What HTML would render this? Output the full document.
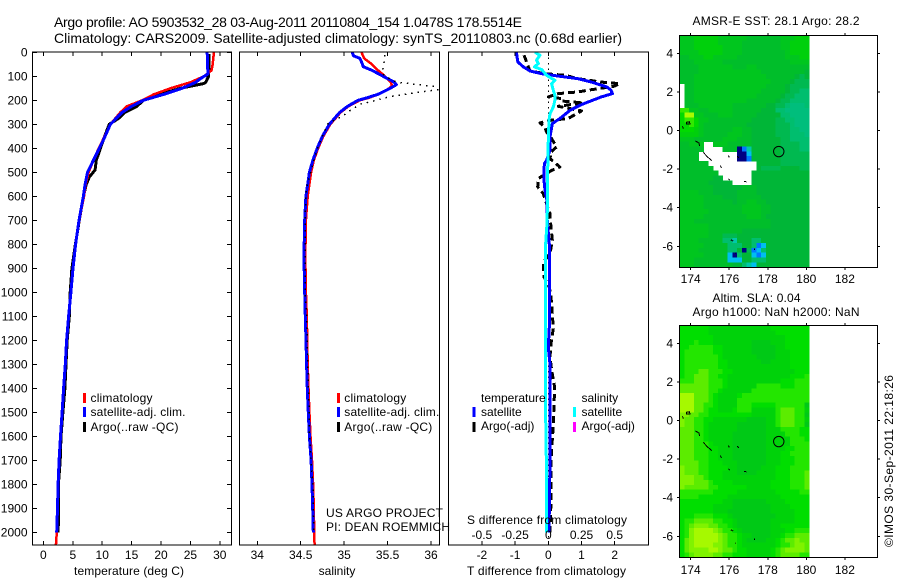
<!DOCTYPE html>
<html lang="en">
<head>
<meta charset="utf-8">
<title>Argo profile comparison</title>
<style>
html,body{margin:0;padding:0;background:#fff;width:900px;height:580px;overflow:hidden}
svg{display:block}
text{font-family:"Liberation Sans",sans-serif;font-size:12px;fill:#000}
.title{font-size:14px}
.mid{text-anchor:middle}
.end{text-anchor:end}
</style>
</head>
<body>
<svg id="chart" xmlns="http://www.w3.org/2000/svg" width="900" height="580" viewBox="0 0 900 580">
  <defs>
    <clipPath id="clip-temp"><rect x="32" y="52" width="200" height="493"/></clipPath>
    <clipPath id="clip-sal"><rect x="239" y="52" width="200" height="493"/></clipPath>
    <clipPath id="clip-diff"><rect x="448" y="52" width="200" height="493"/></clipPath>
  </defs>
  <rect x="0" y="0" width="900" height="580" fill="#fff"/>

  <text class="title" x="54" y="27" textLength="468">Argo profile: AO 5903532_28 03-Aug-2011 20110804_154 1.0478S 178.5514E</text>
  <text class="title" x="54" y="43" textLength="568">Climatology: CARS2009. Satellite-adjusted climatology: synTS_20110803.nc (0.68d earlier)</text>

  <g id="temp-panel"></g>
  <g id="sal-panel"></g>
  <g id="diff-panel"></g>
  <g id="sst-map"></g>
  <g id="sla-map"></g>

  <text x="74" y="575" textLength="110">temperature (deg C)</text>
  <text class="mid" x="337" y="575">salinity</text>
  <text x="467" y="575" textLength="159">T difference from climatology</text>
  <text x="467" y="524" textLength="160">S difference from climatology</text>

  <g>
    <rect x="83" y="393" width="3" height="10" fill="#f00"/>
    <rect x="83" y="407" width="3" height="10" fill="#00f"/>
    <rect x="83" y="422" width="3" height="10" fill="#000"/>
    <text x="90.5" y="402" textLength="62">climatology</text>
    <text x="90.5" y="416" textLength="95">satellite-adj. clim.</text>
    <text x="90.5" y="431" textLength="88">Argo(..raw -QC)</text>
  </g>
  <g>
    <rect x="337" y="393" width="3" height="10" fill="#f00"/>
    <rect x="337" y="407" width="3" height="10" fill="#00f"/>
    <rect x="337" y="422" width="3" height="10" fill="#000"/>
    <text x="344.3" y="402" textLength="62">climatology</text>
    <text x="344.3" y="416" textLength="95">satellite-adj. clim.</text>
    <text x="344.3" y="431" textLength="88">Argo(..raw -QC)</text>
  </g>
  <text x="326" y="517" textLength="117">US ARGO PROJECT</text>
  <text x="326" y="531" textLength="124">PI: DEAN ROEMMICH</text>

  <g>
    <text x="481" y="402">temperature</text>
    <rect x="472.5" y="407" width="3" height="10" fill="#00f"/>
    <rect x="472.5" y="422" width="3" height="10" fill="#000"/>
    <text x="481" y="416">satellite</text>
    <text x="481" y="430">Argo(-adj)</text>
    <text x="581.5" y="402">salinity</text>
    <rect x="573" y="407" width="3" height="10" fill="#0ff"/>
    <rect x="573" y="422" width="3" height="10" fill="#f0f"/>
    <text x="581.5" y="416">satellite</text>
    <text x="581.5" y="430">Argo(-adj)</text>
  </g>

  <text x="692.5" y="25" textLength="167">AMSR-E SST: 28.1  Argo: 28.2</text>
  <text x="712.5" y="302" textLength="88">Altim. SLA: 0.04</text>
  <text x="692.5" y="316" textLength="167">Argo h1000: NaN h2000: NaN</text>
  <text transform="translate(893,547) rotate(-90)" textLength="172">©IMOS 30-Sep-2011 22:18:26</text>
</svg>
<script>
/* ---------- profile data ---------- */
const depthTicks = [0,100,200,300,400,500,600,700,800,900,1000,1100,1200,1300,1400,1500,1600,1700,1800,1900,2000];
const tempTicks = [0,5,10,15,20,25,30];
const salTicks = [34,34.5,35,35.5,36];
const tDiffTicks = [-2,-1,0,1,2];
const sDiffTicks = [-0.5,-0.25,0,0.25,0.5];
const sDiffTickLabels = ['-0.5','-0.25','0','0.25','0.5'];
const lonTicks = [174,176,178,180,182];
const latTicks = [4,2,0,-2,-4,-6];

const climTempDepth = [0,50,75,100,125,150,175,200,225,250,300,350,400,450,500,550,600,700,800,900,1000,1100,1200,1300,1400,1500,1600,1700,1800,1900,2000,2054];
const climTemp = [29.0,28.8,28.6,27.3,25,21.6,18.8,16.8,14.2,13.1,11.4,10.4,9.4,8.5,7.7,7.2,6.9,6.1,5.5,5.05,4.7,4.3,3.97,3.73,3.45,3.2,2.92,2.68,2.51,2.4,2.28,2.12];
const satTempDepth = [0,50,90,110,125,150,175,200,225,250,300,350,400,450,500,550,600,700,800,900,1000,1100,1200,1300,1400,1500,1600,1700,1800,1900,2000];
const satTemp = [27.85,27.9,28,26.7,25.9,23.6,20.5,17,15,13.4,11.4,10.5,9.5,8.5,7.5,7.1,6.8,6.05,5.48,5.03,4.68,4.29,3.95,3.72,3.44,3.18,2.9,2.67,2.5,2.39,2.27];
const argoTempDepth = [8,100,125,130,150,175,200,225,250,275,300,350,400,450,490,520,550,600,700,800,900,1000,1100,1200,1300,1400,1500,1600,1700,1800,1900,2000];
const argoTemp = [28.2,28.1,27.6,27.3,23.3,19.9,17,15.9,13.9,12.8,11.2,10.4,9.7,9,8.8,7.8,7.3,6.8,6.1,5.45,4.85,4.55,4.4,4.05,3.85,3.65,3.32,3,2.85,2.55,2.6,2.5];

const climSalDepth = [0,25,50,75,100,125,140,150,175,190,200,225,250,300,350,400,450,500,550,600,700,800,900,1000,1100,1200,1300,1400,1500,1600,1700,1800,1900,2000,2054];
const climSal = [35.2,35.23,35.32,35.39,35.47,35.54,35.55,35.52,35.4,35.28,35.18,35.05,34.96,34.84,34.76,34.7,34.65,34.62,34.6,34.58,34.56,34.555,34.555,34.56,34.57,34.575,34.58,34.59,34.6,34.612,34.63,34.642,34.65,34.655,34.66];
const satSalDepth = [0,15,25,40,60,75,100,125,135,150,175,190,200,225,250,300,350,400,450,500,550,600,700,800,900,1000,1100,1200,1300,1400,1500,1600,1700,1800,1900,2000];
const satSal = [35.09,35.11,35.18,35.2,35.22,35.32,35.45,35.58,35.6,35.53,35.39,35.26,35.16,35.04,34.95,34.83,34.75,34.69,34.64,34.6,34.58,34.56,34.546,34.54,34.54,34.546,34.553,34.561,34.568,34.576,34.587,34.6,34.62,34.63,34.638,34.645];
const argoSalDepth = [12,40,61,89,103,124,149,183,197,207,214,242,262,283,294,339,394,464,561,600,700,1000,1100,1200,1400,1500,1600,1800,2000];
const argoSal = [35.47,35.46,35.45,35.44,35.49,35.6,36.2,35.55,35.39,35.3,35.2,35.07,35,34.89,34.82,34.76,34.7,34.64,34.57,34.56,34.55,34.55,34.57,34.575,34.59,34.6,34.6,34.64,34.65];

const satTDiffDepth = [0,40,61,78,89,100,110,124,144,158,172,186,207,221,242,276,297,353,408,450,464,533,575,617,686,800,1145,1230,1300,1436,1700,2000];
const satTDiff = [-0.96,-0.92,-0.75,-0.55,-0.2,0.35,0.9,1.3,1.76,1.89,1.93,1.6,1.2,0.95,0.65,0.35,0.12,0.05,0.05,-0.05,-0.12,-0.13,-0.1,-0.04,-0.04,0.03,0.03,0,0.05,0.05,0.05,0.02];
const argoTDiffDepth = [12,54,78,89,96,110,124,131,142,158,165,172,186,193,203,211,225,244,276,283,294,314,332,360,394,415,443,478,492,526,561,589,631,672,686,783,839,874,936,978,1019,1088,1151,1213,1269,1324,1387,1436,1550,1700,1870,2000];
const argoTDiff = [-0.73,-0.62,-0.55,-0.1,0.5,0.9,1.6,2.16,1.96,1.2,0.9,0.3,0,0.4,0.4,1.05,0.3,1,0.6,0.1,-0.25,-0.1,-0.05,0.1,0.25,0.08,0.05,0.35,0.1,-0.3,-0.32,-0.15,-0.05,0.05,0.05,0.12,0.05,-0.15,-0.13,0.03,0.08,0.12,0.15,0.08,0.05,0.1,0.18,0.18,0.15,0.08,0.08,0.05];
const satSDiffDepth = [0,12,33,47,61,72,96,117,131,158,179,200,228,256,283,367,506,700,800,1400,1500,1800,2000];
const satSDiff = [-0.1,-0.063,-0.088,-0.075,-0.105,-0.05,-0.013,0.05,0.025,0.038,0.05,0.05,0.038,0.013,0.005,0,-0.005,-0.008,-0.02,-0.022,-0.02,-0.012,-0.015];

/* ---------- map data ---------- */
const sstColors = {g:'#00b637',h:'#00be2a',i:'#00c61e',j:'#00d00c',k:'#00da00',l:'#32e800',y:'#aafa00',t:'#00b950',u:'#00be6e',v:'#00be7c',n:'#000082',b:'#0078ff',c:'#00beF0',d:'#00c8aa'};
const slaColors = {a:'#00c916',b:'#00d20a',c:'#00de00',d:'#23e600',e:'#5cec00',f:'#80f300',y:'#a6f900'};
const sstRows = [
'iiijjjjjiiiiiihhhhhhhiiijjj','iiijjjjjiiiiihhhhhhhhiijjjj','iiijjjjjjiiiihhhhhhhhiijjjj','iiiijjjjjiiiihhhhhhhhhijjjj',
'hhiiijjiiiiihhhhhhhhhhiiijj','hhhiiiiiihhhhhhhhhhhhhhiiii','hhhhiiiiiiihhhiihhhhhhhhhhh','hhhhiiiiiiiiiiiiihhhhhhhhhg',
'hhhiiiiiiiiiiiiiiihhhhhhgtg','hhhiiiiiiiiiiiiiiiihhhhgttt','.hhiiiiiiiiiiiiiiihhhhgtttt','.hhiiiiiiiiiiiiiihhhhhgttuu',
'.hhiiiiiiiiiiiiihhhhhgttuuu','.hhiiiiiiiiiiihhhhhhgttuuuu','.hhhiiiiiiihhhhhhhggttuvvvu','lliihhiiiiihhhhhhggguuvvvvv',
'kyyiihhhiiihhhhhggggguuvvvv','kllkiihhhhhhhhhgggggttuuvvv','kklkihhhhhhhhhggggggtttuvvv','kkkjihhhhhhiihhgggggtttuuvv',
'jjjjihhhhhiiihhgggggtttuuuv','iiihhhhhhiiihhhggggggttuuuu','hhiii..iiihhhhhggggggttttuu','hhhhh....hhhnbdggggggttttuu',
'hhhh........nncggggggtttttt','hhhh........nnbggggggtttttt','hhhhhh..........gggggtttttt','hhhhhhh.........gttttggggtt',
'hhhhhhhh.......gggggggggggg','hhhhhhhgg......gggggggggggg','hhhhhhggggg....gggggggggggg','hhhhhhhgggggghhhggggggggggg',
'iiiihhhggggghhhhggggggggggg','iiiiihhhhggghhhhhgggggggggg','iiiiihhhhhhghhiihhggggggggg','iiiiihhhhhhhhiiiihhgggggggg',
'iiiiiihhhhhhhiiiihhgggggggg','iiiiihhhhhhhhhiiihggggggggg','iiihhhhhhhhhhhhhhhhgggggggg','iiiiiihhhhhhhhhhhhhgggggggg',
'iiiiiihhhhhhhgggggggggggggg','iiiiiihhhtttggggggggggggggg','iiiihhhhhuudggguuggggggggggg','iiiiihhhhhuuuggubcggggggggg',
'iiiihhhhhhuugntbcuggggggggg','iiiiihhhhhcnuggcbcggggggggg','iiihhhhhhhcccgguuuggggggggg','iiihhhhhhhhggudcggggggggggg'
];
const slaRows = [
'ccccccbbbbbbbbbbbbbcccccccc','ccccccbbbbbbbbbbbbbbccccccc','cccccccbbbbbbbbbbbbbbbccccc','cccdcccbbbbbbbbaaaabbbccccc',
'ccdddddccbbbbbbaaaaabbccccc','cddddddccbbbbbbaaaaabbbcccc','cdddddddcbbbbbbbaaaabbbcccc','cdddddddccbbbbbbbaabbbbcccc',
'cdddddddccbbbbbbbbbbbbbcccc','cdddeedddccbbbbbbbbbbbbbccc','cddeeeddccbbbbbbbbbbbbbcccd','dddeeedddcbbbbbbbbbbbcccddd',
'eeeeeedddcbbbbbbdddddcccddd','eeeeeeddcbbbbbbdddddddddddd','yyyeeedcbbbbcdddddddddddddd','yyyeeedcbbbbddddddddddddddd',
'yyyeeddcbbbbdddcccccdddddda','yyyeedccbbbcdddbbbbbdeeeddb','ffeeddcccccccccbbbbbdeeedda','feeddccbbbbbbbaaaabbdeeeddb',
'feeddcbbbbbbaaaaaabbdeeedda','eeeddcbbbbbbaaaaaabbbddddcc','eeeddcbbbbbaaaaaaabbbbdddcc','eeeddcbbbbbaaaaaaabbbbbdddc',
'eeedddcbbbbaaaaaaabbbbbdddd','eeedddccbbbaaaaaaabbbbccddd','eeedddccbbbaaaaaaabbbccdddd','eeedddccbbbaaaaaaabbbcccddd',
'eeeeddcccbbbaaaaaabbbcccddd','feeeddccccbbaaaaabbbcccdddd','feeeddcccbbbaaaabbbbcccddde','fffeedcccbbbbbbbbbbbcccddde',
'fffeeedccccbbbbbbbbccccddde','feeeeeddccccccbbbbbccccddde','dddddddcccccbbbbbbbbcccccdd','ddddccccccbbbbbbbbbbbcccccc',
'cccccccccbbaaaaaaabbbbccccc','cccccccbbbbaaaaaaaabbbbcccc','cccccccbbbaaaaaaaaabbbbbccc','cccddddcccbaaaaaaaaabbbbccc',
'cddeeeeddccbaaaaaaabbbbbccc','cdefffeeddcbaaaaaaabbcccccc','cdfyyyyfeddcbaaaaaabbbccddd','cdfyyyyyfeddcbbaaaabbcddeee',
'cefyyyyyfeddcbaaaabbcdeefee','cefyyyyffeddcbbbbbbbcddeffe','ceffffyyfeedccbbbbbcdeffffe','cdeffffeeddcccbbbbbcdeeeedd'
];
const coastLon = [[173.57,173.62],[173.79,173.93,173.97,173.79,173.79],[174.24,174.42,174.47],[174.66,174.87,175.09],[175.52,175.61],[175.96,176.0],[176.42,176.49],[175.96,176.02],[176.77,176.89],[176.08,176.2],[177.3,177.32],[176.32,176.34]];
const coastLat = [[0.22,0.1],[0.43,0.45,0.33,0.33,0.43],[-0.54,-0.64,-0.81],[-1.14,-1.37,-1.56],[-1.82,-1.92],[-1.3,-1.4],[-1.33,-1.42],[-2.49,-2.58],[-2.65,-2.66],[-5.66,-5.73],[-6.12,-6.18],[-6.33,-6.37]];
const floatLon = 178.57;
const floatLat = -1.09;

/* ---------- axis functions ---------- */
const NS = 'http://www.w3.org/2000/svg';
const yDepth = d => 52.3 + d * 0.24;
const xTemp = t => 43.4 + t * 5.88;
const xSal = s => 257.3 + (s - 34) * 86.85;
const xTDiff = t => 548.3 + t * 33.2;
const xSDiff = s => 548.3 + s * 132.8;
const xLon = lon => 690.7 + (lon - 174) * 19.27;
const ySst = lat => 130.5 - lat * 19.3;
const ySla = lat => 420.5 - lat * 19.3;

function node(parent, tag, attrs, text) {
  const el = document.createElementNS(NS, tag);
  for (const k in attrs) el.setAttribute(k, attrs[k]);
  if (text !== undefined) el.textContent = text;
  parent.appendChild(el);
  return el;
}
function tickLine(parent, x1, y1, x2, y2, name) {
  const el = node(parent, 'line', {x1: x1, y1: y1, x2: x2, y2: y2, stroke: '#000', 'stroke-width': 1, 'shape-rendering': 'crispEdges'});
  
  
}
function label(parent, x, y, cls, str, name) {
  const el = node(parent, 'text', {x: x, y: y, class: cls}, str);
  
  
}
function frame(parent, x, y, w, h, name) {
  const el = node(parent, 'rect', {x: x, y: y, width: w, height: h, fill: 'none', stroke: '#000', 'stroke-width': 1, 'shape-rendering': 'crispEdges'});
  
  
}
function series(parent, xs, ds, xFn, clip, color, width, dash, name) {
  const pts = xs.map((v, i) => xFn(v).toFixed(1) + ',' + yDepth(ds[i]).toFixed(1)).join(' ');
  const attrs = {points: pts, fill: 'none', stroke: color, 'stroke-width': width, 'clip-path': 'url(#' + clip + ')', 'shape-rendering': 'crispEdges', 'stroke-linejoin': 'round'};
  if (dash) attrs['stroke-dasharray'] = dash;
  const el = node(parent, 'polyline', attrs);
  
  
}

const BOTTOM = 545;
const TOP = 52;

/* ---------- temperature panel ---------- */
const tp = document.getElementById('temp-panel');
series(tp, argoTemp, argoTempDepth, xTemp, 'clip-temp', '#000', 3, '', 'argo-temperature-line');
series(tp, climTemp, climTempDepth, xTemp, 'clip-temp', '#f00', 2.5, '', 'climatology-temperature-line');
series(tp, satTemp, satTempDepth, xTemp, 'clip-temp', '#00f', 3, '', 'satellite-temperature-line');
frame(tp, 32.5, TOP, 199, BOTTOM - TOP, 'temperature-plot-frame');
tempTicks.forEach(t => {
  tickLine(tp, xTemp(t), TOP, xTemp(t), TOP + 4, 'temperature-top-tick');
  tickLine(tp, xTemp(t), BOTTOM, xTemp(t), BOTTOM - 4, 'temperature-bottom-tick');
  label(tp, xTemp(t), 559, 'mid', String(t), 'temperature-tick-label');
});
depthTicks.forEach(d => {
  tickLine(tp, 32.5, yDepth(d), 37, yDepth(d), 'depth-left-tick');
  tickLine(tp, 231.5, yDepth(d), 227, yDepth(d), 'depth-right-tick');
  label(tp, 27.5, yDepth(d) + 4, 'end', String(d), 'depth-tick-label');
});

/* ---------- salinity panel ---------- */
const sp = document.getElementById('sal-panel');
series(sp, climSal, climSalDepth, xSal, 'clip-sal', '#f00', 2.5, '', 'climatology-salinity-line');
series(sp, satSal, satSalDepth, xSal, 'clip-sal', '#00f', 3, '', 'satellite-salinity-line');
series(sp, argoSal, argoSalDepth, xSal, 'clip-sal', '#000', 1.5, '1.5 5', 'argo-salinity-line');
frame(sp, 239.5, TOP, 200, BOTTOM - TOP, 'salinity-plot-frame');
salTicks.forEach(s => {
  tickLine(sp, xSal(s), TOP, xSal(s), TOP + 4, 'salinity-top-tick');
  tickLine(sp, xSal(s), BOTTOM, xSal(s), BOTTOM - 4, 'salinity-bottom-tick');
  label(sp, xSal(s), 559, 'mid', String(s), 'salinity-tick-label');
});

/* ---------- difference panel ---------- */
const dp = document.getElementById('diff-panel');
const zeroLine = node(dp, 'line', {x1: xTDiff(0), y1: TOP, x2: xTDiff(0), y2: BOTTOM, stroke: '#000', 'stroke-width': 1, 'stroke-dasharray': '1.5 4', 'shape-rendering': 'crispEdges'});


series(dp, argoTDiff, argoTDiffDepth, xTDiff, 'clip-diff', '#000', 3, '7 4', 'argo-temperature-difference-line');
series(dp, satTDiff, satTDiffDepth, xTDiff, 'clip-diff', '#00f', 3, '', 'satellite-temperature-difference-line');
series(dp, satSDiff, satSDiffDepth, xSDiff, 'clip-diff', '#0ff', 3, '', 'satellite-salinity-difference-line');
frame(dp, 448.5, TOP, 200, BOTTOM - TOP, 'difference-plot-frame');
tDiffTicks.forEach(t => {
  tickLine(dp, xTDiff(t), TOP, xTDiff(t), TOP + 4, 'temperature-difference-top-tick');
  tickLine(dp, xTDiff(t), BOTTOM, xTDiff(t), BOTTOM - 4, 'temperature-difference-bottom-tick');
  label(dp, xTDiff(t), 559, 'mid', String(t), 'temperature-difference-tick-label');
});
sDiffTicks.forEach((s, i) => {
  label(dp, xSDiff(s), 539, 'mid', sDiffTickLabels[i], 'salinity-difference-tick-label');
});

/* ---------- maps ---------- */
function drawMap(id, rows, colors, yFn, top, bottom, labelY, prefix) {
  const g = document.getElementById(id);
  const cellLon = 0.249;
  const cellLat = 0.25;
  const lon0 = 173.42;
  const lat0 = 4.92;
  rows.forEach((row, r) => {
    for (let c = 0; c < row.length && c < 27; c++) {
      const code = row[c];
      if (code === '.') continue;
      const cell = node(g, 'rect', {
        x: xLon(lon0 + c * cellLon).toFixed(2),
        y: yFn(lat0 - r * cellLat).toFixed(2),
        width: (cellLon * 19.27 + 0.4).toFixed(2),
        height: (cellLat * 19.3 + 0.4).toFixed(2),
        fill: colors[code],
        'shape-rendering': 'crispEdges'
      });
      
      
    }
  });
  coastLon.forEach((lons, i) => {
    const pts = lons.map((lon, j) => xLon(lon).toFixed(1) + ',' + yFn(coastLat[i][j]).toFixed(1)).join(' ');
    const line = node(g, 'polyline', {points: pts, fill: 'none', stroke: '#000', 'stroke-width': 1, 'shape-rendering': 'crispEdges'});
    
    
  });
  const marker = node(g, 'circle', {cx: xLon(floatLon), cy: yFn(floatLat), r: 5.2, fill: 'none', stroke: '#000', 'stroke-width': 1});
  
  
  frame(g, 679.5, top, 198, bottom - top, prefix + '-map-frame');
  lonTicks.forEach(lon => {
    tickLine(g, xLon(lon), top, xLon(lon), top - 2.5, prefix + '-longitude-top-tick');
    tickLine(g, xLon(lon), bottom, xLon(lon), bottom + 2.5, prefix + '-longitude-bottom-tick');
    label(g, xLon(lon), labelY, 'mid', String(lon), prefix + '-longitude-tick-label');
  });
  latTicks.forEach(lat => {
    tickLine(g, 679.5, yFn(lat), 677, yFn(lat), prefix + '-latitude-left-tick');
    tickLine(g, 877.5, yFn(lat), 880, yFn(lat), prefix + '-latitude-right-tick');
    label(g, 673, yFn(lat) + 4, 'end', String(lat), prefix + '-latitude-tick-label');
  });
}
drawMap('sst-map', sstRows, sstColors, ySst, 35.5, 267.5, 283, 'sst');
drawMap('sla-map', slaRows, slaColors, ySla, 325.5, 557.5, 574, 'sla');
</script>
</body>
</html>
